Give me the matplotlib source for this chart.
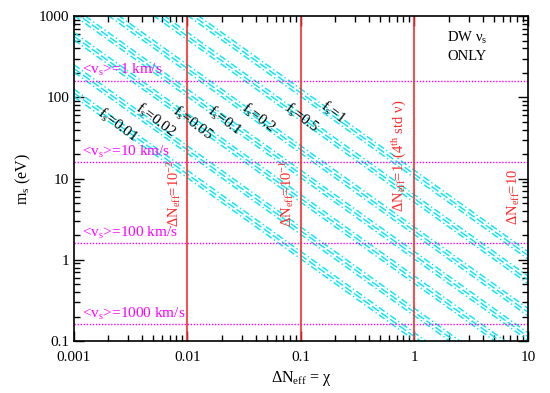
"""DW sterile neutrino: m_s vs Delta N_eff with f_s bands."""
import numpy as np
import matplotlib
matplotlib.use("Agg")
import matplotlib.pyplot as plt
from matplotlib.ticker import LogLocator, NullFormatter, FixedFormatter, FixedLocator

plt.rcParams['font.family'] = ['Liberation Serif', 'DejaVu Serif']
plt.rcParams['mathtext.fontset'] = 'custom'
plt.rcParams['mathtext.rm'] = 'Liberation Serif'
plt.rcParams['mathtext.it'] = 'Liberation Serif:italic'

# Daten
fs_werte = [0.01, 0.02, 0.05, 0.1, 0.2, 0.5, 1]
fs_labels = ["0.01", "0.02", "0.05", "0.1", "0.2", "0.5", "1"]
# m_s * chi bei f_s = 1 [eV] fuer die drei Linien eines Bandes
band_koeff = [10.2, 11.3, 12.6]
# Position der f_s-Beschriftungen (chi, m_s)
fs_label_x = [0.00244, 0.0052, 0.0111, 0.0214, 0.042, 0.102, 0.19]
fs_label_y = [45, 52, 48, 52, 56, 56, 65]

v_werte = ["1", "10", "100", "1000"]          # [km/s]
v_masse = [160, 16, 1.6, 0.16]               # [eV]

dneff_linien = [0.01, 0.1, 1]
dneff_texte = [r"ΔN$_\mathrm{eff}$=10$^{-2}$", r"ΔN$_\mathrm{eff}$=10$^{-1}$",
               r"ΔN$_\mathrm{eff}$=1  (4$^\mathrm{th}$ std ν)",
               r"ΔN$_\mathrm{eff}$=10"]
dneff_text_x = [0.0092, 0.091, 0.9, 8.9]
dneff_text_y = [2.5, 2.5, 3.9, 2.7]

chi = np.logspace(-3, 1, 200)

fig = plt.figure(figsize=(5.5, 3.93), dpi=100)
ax = fig.add_axes([0.1345, 0.1323, 0.8255, 0.8267])

# f_s Baender
stile = [(0, (5, 2, 1, 2)), (0, (6, 2)), (0, (5, 2, 1, 2))]
for f in fs_werte:
    for k, st in zip(band_koeff, stile):
        ax.plot(chi, k * f / chi, color='#00e8f0', lw=1.0, linestyle=st)

for x, y, lab in zip(fs_label_x, fs_label_y, fs_labels):
    ax.text(x, y, r"f$_\mathrm{s}$=" + lab, rotation=-37, ha='center',
            va='center', fontsize=11, rotation_mode='anchor')

# Geschwindigkeitslinien
for v, m in zip(v_werte, v_masse):
    ax.axhline(m, color='#ff00ff', lw=1.0, linestyle=(0, (1, 1.2)))
    ax.text(0.00118, m * 1.07, r"<v$_\mathrm{s}$>=" + v + " km/s",
            color='#ff00ff', fontsize=11, va='bottom')

# Delta N_eff Linien
for x in dneff_linien:
    ax.axvline(x, color='#ff2a2a', lw=1.2)
for x, y, t in zip(dneff_text_x, dneff_text_y, dneff_texte):
    ax.text(x, y, t, rotation=90, color='#ff2a2a', fontsize=10.5,
            ha='right', va='bottom')

ax.text(1.95, 535, r"DW ν$_\mathrm{s}$", fontsize=10.5, ha='left', va='center')
ax.text(1.95, 320, "ONLY", fontsize=10.5, ha='left', va='center')

ax.set_xscale('log')
ax.set_yscale('log')
ax.set_xlim(0.001, 10)
ax.set_ylim(0.1, 1000)

ax.xaxis.set_major_locator(FixedLocator([0.001, 0.01, 0.1, 1, 10]))
ax.xaxis.set_major_formatter(FixedFormatter(["0.001", "0.01", "0.1", "1", "10"]))
ax.yaxis.set_major_locator(FixedLocator([0.1, 1, 10, 100, 1000]))
ax.yaxis.set_major_formatter(FixedFormatter(["0.1", "1", "10", "100", "1000"]))
for a in (ax.xaxis, ax.yaxis):
    a.set_minor_locator(LogLocator(base=10, subs=np.arange(2, 10), numticks=20))
    a.set_minor_formatter(NullFormatter())
ax.tick_params(which='both', direction='in', top=True, right=True, labelsize=11)
ax.tick_params(axis='x', which='major', pad=7)
ax.tick_params(which='major', length=7, width=1)
ax.tick_params(which='minor', length=4, width=1)
for s in ax.spines.values():
    s.set_linewidth(1.2)

ax.set_xlabel(r"ΔN$_\mathrm{eff}$ = χ", fontsize=11.5)
ax.set_ylabel(r"m$_\mathrm{s}$ (eV)", fontsize=11.5)

fig.savefig("out.png", dpi=100)
